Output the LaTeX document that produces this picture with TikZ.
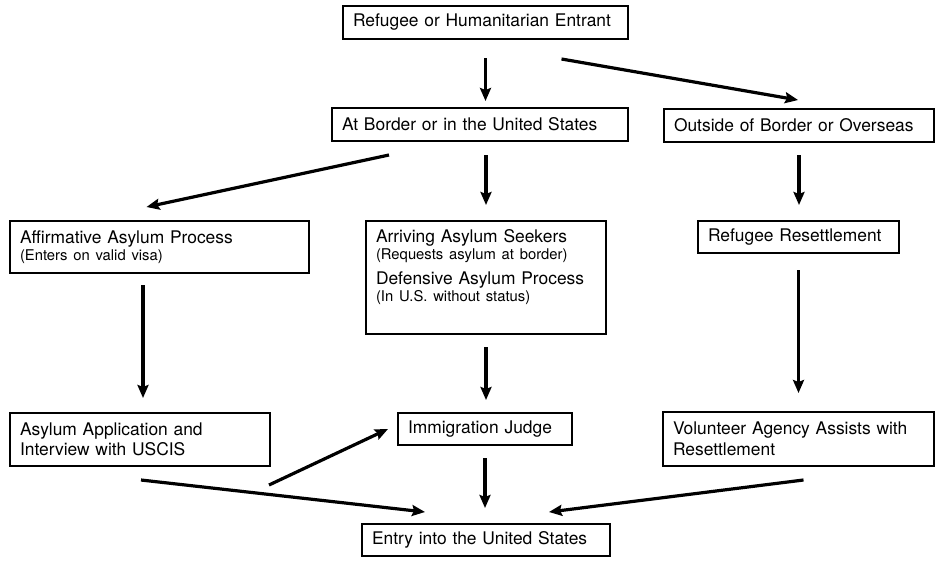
\documentclass[tikz,border=0pt]{standalone}
\usepackage{fontspec}
\setmainfont{TeX Gyre Heros}
\usetikzlibrary{arrows.meta}

\newcommand{\subline}[1]{{\fontsize{14.8}{17}\selectfont #1}}

\begin{document}
\begin{tikzpicture}[x=1pt,y=-1pt,
    box/.style={draw, line width=2pt, anchor=north west, align=left,
        inner xsep=10pt, inner ysep=2pt, font=\fontsize{17.4}{20.5}\selectfont},
    arr/.style={-{Stealth[length=13pt,width=11pt,inset=2pt]}, line width=3.2pt}]
    \useasboundingbox (0,0) rectangle (941,562);

    \node[box, text width=265pt, minimum height=33pt] (top) at (342,5)
        {Refugee or Humanitarian Entrant};
    \node[box, text width=276pt, minimum height=33pt] (border) at (331,107)
        {At Border or in the United States};
    \node[box, text width=250pt, minimum height=33pt] (outside) at (663,108)
        {Outside of Border or Overseas};

    \node[box, text width=279pt, minimum height=52pt] (affirm) at (9,220)
        {Affirmative Asylum Process\\[-4pt]\subline{(Enters on valid visa)}};
    \node[box, text width=220pt, minimum height=113pt] (middle) at (365,220)
        {Arriving Asylum Seekers\\[-4pt]\subline{(Requests asylum at border)}\\[5pt]
         Defensive Asylum Process\\[-4pt]\subline{(In U.S. without status)}\\[4pt]\mbox{}};
    \node[box, text width=181pt, minimum height=32pt] (resettle) at (697,220)
        {Refugee Resettlement};

    \node[box, text width=240pt, minimum height=53pt] (app) at (9,412)
        {Asylum Application and\\Interview with USCIS};
    \node[box, text width=154pt, minimum height=32pt] (judge) at (397,412)
        {Immigration Judge};
    \node[box, text width=251pt, minimum height=54pt] (volunteer) at (662,411)
        {Volunteer Agency Assists with\\Resettlement};

    \node[box, text width=228pt, minimum height=32pt] (entry) at (361,523)
        {Entry into the United States};

    \draw[arr, shorten <=18pt, shorten >=6pt] (top.south) -- (top.south |- border.north);
    \draw[arr] ([xshift=76pt,yshift=-19pt]top.south) -- ([xshift=-1pt,yshift=8pt]outside.north);

    \draw[arr] ([xshift=-91pt,yshift=-13pt]border.south) -- ([xshift=-13pt,yshift=13pt]affirm.north);
    \draw[arr, shorten <=13pt, shorten >=15pt] (border.south -| middle.north) -- (middle.north);
    \draw[arr, shorten <=12pt, shorten >=15pt] (outside.south) -- (outside.south |- resettle.north);

    \draw[arr, shorten <=11pt, shorten >=14pt] ([xshift=3pt]app.north |- affirm.south) -- ([xshift=3pt]app.north);
    \draw[arr, shorten <=12pt, shorten >=12pt] (middle.south) -- (middle.south |- judge.north);
    \draw[arr, shorten <=16pt, shorten >=18pt] (resettle.south) -- (resettle.south |- volunteer.north);

    \draw[arr] ([xshift=-2pt,yshift=-18pt]app.south east) -- ([xshift=-9pt]judge.west);
    \draw[arr] ([xshift=1pt,yshift=-13pt]app.south) -- ([xshift=64pt,yshift=11pt]entry.north west);
    \draw[arr, shorten <=12pt, shorten >=15pt] (judge.south) -- (judge.south |- entry.north);
    \draw[arr] ([xshift=5pt,yshift=-13pt]volunteer.south) -- ([xshift=-62pt,yshift=11pt]entry.north east);
\end{tikzpicture}
\end{document}
